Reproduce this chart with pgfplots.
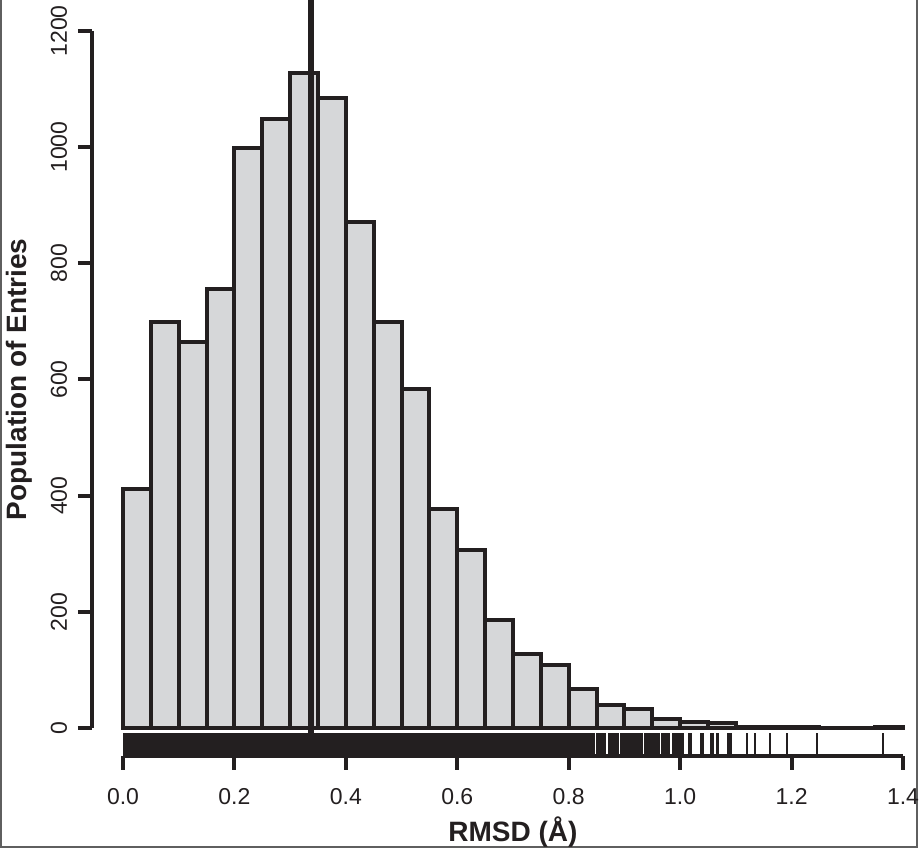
\documentclass[border=0pt]{standalone}
\usepackage{pgfplots}
\pgfplotsset{compat=1.18}
\usepackage{fontspec}
\setmainfont{Liberation Sans}
\definecolor{ink}{RGB}{35,31,32}
\definecolor{barfill}{RGB}{214,215,217}
\definecolor{framegray}{RGB}{95,95,95}
\begin{document}
\begin{tikzpicture}[x=1pt,y=1pt]
\useasboundingbox (0,0) rectangle (921,849);
\draw[framegray, line width=2pt] (1,849) -- (1,2) -- (917,2) -- (917,849);
\begin{axis}[
  at={(91.8pt,93.1pt)}, anchor=south west,
  scale only axis, width=842.4pt, height=752.8pt,
  xmin=-0.056, xmax=1.456, ymin=-48, ymax=1248,
  axis line style={draw=none},
  clip=false,
  tick align=outside,
  major tick length=14pt,
  tick style={ink, line width=4pt},
  xtick={0,0.2,0.4,0.6,0.8,1.0,1.2,1.4},
  xticklabels={0.0,0.2,0.4,0.6,0.8,1.0,1.2,1.4},
  ytick={0,200,400,600,800,1000,1200},
  yticklabels={0,200,400,600,800,1000,1200},
  xtick pos=bottom, ytick pos=left,
  minor tick num=0,
  ticklabel style={font=\fontsize{23}{27}\selectfont, text=ink},
  xticklabel style={anchor=base, yshift=-35pt},
  yticklabel style={rotate=90, anchor=base, yshift=11pt},
  xlabel={RMSD (Å)},
  ylabel={Population of Entries},
  xlabel style={at={(axis description cs:0.5,0)}, anchor=base, yshift=-86pt, font=\fontsize{28}{32}\selectfont\bfseries, text=ink},
  ylabel style={at={([xshift=-65pt]axis description cs:0,0.5)}, rotate=0, anchor=base, font=\fontsize{28}{32}\selectfont\bfseries, text=ink},
]
\draw[ink, line width=4pt] (axis cs:-0.056,0) -- (axis cs:-0.056,1200);
\draw[ink, line width=4pt] (axis cs:0,-48) -- (axis cs:1.4,-48);
% histogram
\addplot[ybar interval, fill=barfill, draw=ink, line width=4pt] coordinates {
(0.00,411) (0.05,699) (0.10,664) (0.15,756) (0.20,998) (0.25,1049) (0.30,1127)
(0.35,1085) (0.40,871) (0.45,699) (0.50,583) (0.55,377) (0.60,306) (0.65,186)
(0.70,127) (0.75,108) (0.80,67) (0.85,40) (0.90,33) (0.95,16) (1.00,10)
(1.05,8) (1.10,2) (1.15,2) (1.20,1) (1.25,0) (1.30,0) (1.35,2) (1.40,2)
};
% rug: dense part
\addplot[fill=ink, draw=none] coordinates {(0,-48) (0.847,-48) (0.847,-9.1) (0,-9.1)} -- cycle;
% rug: individual entries
\addplot[only marks, mark=|, mark size=11.3pt, mark options={line width=2.4pt, ink}] coordinates {
(0.852,-28.55) (0.855,-28.55) (0.858,-28.55) (0.861,-28.55) (0.864,-28.55)
(0.873,-28.55) (0.876,-28.55) (0.879,-28.55) (0.882,-28.55) (0.885,-28.55) (0.888,-28.55)
(0.894,-28.55) (0.897,-28.55) (0.900,-28.55) (0.903,-28.55) (0.906,-28.55) (0.909,-28.55) (0.912,-28.55) (0.915,-28.55)
(0.919,-28.55) (0.922,-28.55) (0.925,-28.55) (0.928,-28.55) (0.931,-28.55)
(0.937,-28.55) (0.940,-28.55) (0.943,-28.55) (0.946,-28.55) (0.949,-28.55)
(0.953,-28.55) (0.956,-28.55) (0.959,-28.55) (0.962,-28.55)
(0.968,-28.55) (0.971,-28.55) (0.974,-28.55)
(0.977,-28.55) (0.980,-28.55)
(0.988,-28.55) (0.991,-28.55) (0.994,-28.55)
(0.999,-28.55) (1.002,-28.55) (1.005,-28.55)
(1.017,-28.55) (1.020,-28.55)
(1.037,-28.55) (1.040,-28.55)
(1.055,-28.55) (1.058,-28.55)
(1.067,-28.55)
(1.087,-28.55) (1.091,-28.55)
(1.120,-28.55) (1.134,-28.55) (1.161,-28.55) (1.192,-28.55) (1.246,-28.55) (1.364,-28.55)
};
% median line
\addplot[ink, line width=6pt] coordinates {(0.338,-48) (0.338,1253)};
\end{axis}
\end{tikzpicture}
\end{document}
